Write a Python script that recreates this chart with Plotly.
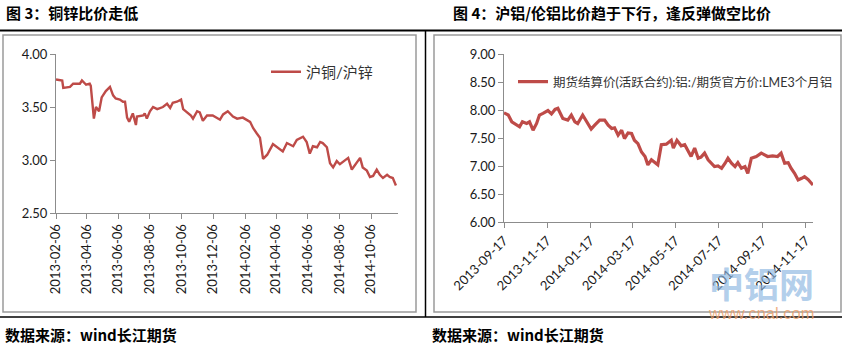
import plotly.graph_objects as go

W, H = 842, 345
RED = "#BE4B48"
AXIS = "#8C8C8C"
FONT = "Lato, 'Noto Sans CJK SC', sans-serif"
CJK_BOLD = "'Noto Sans CJK SC', sans-serif"

# ---- Chart 3: SHFE copper / SHFE zinc price ratio ----
cu_zn_dates = [
    "2013-02-06", "2013-02-18", "2013-02-20", "2013-03-05", "2013-03-11", "2013-03-24",
    "2013-03-28", "2013-04-05", "2013-04-12", "2013-04-14", "2013-04-20", "2013-04-24",
    "2013-04-30", "2013-05-05", "2013-05-13", "2013-05-21", "2013-05-27", "2013-06-01",
    "2013-06-09", "2013-06-15", "2013-06-19", "2013-06-23", "2013-06-27", "2013-07-04",
    "2013-07-10", "2013-07-12", "2013-07-24", "2013-07-27", "2013-07-31", "2013-08-06",
    "2013-08-12", "2013-08-20", "2013-08-31", "2013-09-08", "2013-09-14", "2013-09-19",
    "2013-09-27", "2013-10-05", "2013-10-09", "2013-10-16", "2013-10-24", "2013-10-28",
    "2013-11-05", "2013-11-10", "2013-11-16", "2013-11-24", "2013-12-05", "2013-12-19",
    "2013-12-25", "2014-01-03", "2014-01-13", "2014-01-21", "2014-02-01", "2014-02-15",
    "2014-02-21", "2014-02-28", "2014-03-06", "2014-03-12", "2014-03-20", "2014-03-31",
    "2014-04-14", "2014-04-19", "2014-04-27", "2014-05-09", "2014-05-16", "2014-05-28",
    "2014-06-04", "2014-06-10", "2014-06-16", "2014-06-24", "2014-06-30", "2014-07-05",
    "2014-07-13", "2014-07-19", "2014-07-25", "2014-08-01", "2014-08-07", "2014-08-13",
    "2014-08-23", "2014-08-30", "2014-09-09", "2014-09-15", "2014-09-20", "2014-09-28",
    "2014-10-04", "2014-10-10", "2014-10-17", "2014-10-23", "2014-10-29", "2014-11-06",
    "2014-11-11", "2014-11-17", "2014-11-23",
]
cu_zn_ratio = [
    3.76, 3.75, 3.68, 3.69, 3.72, 3.72,
    3.75, 3.71, 3.72, 3.70, 3.39, 3.50,
    3.46, 3.59, 3.65, 3.69, 3.61, 3.58,
    3.57, 3.55, 3.55, 3.40, 3.36, 3.44,
    3.33, 3.41, 3.42, 3.44, 3.39, 3.46,
    3.50, 3.48, 3.50, 3.53, 3.49, 3.54,
    3.55, 3.57, 3.48, 3.45, 3.42, 3.39,
    3.46, 3.45, 3.37, 3.42, 3.42, 3.38,
    3.43, 3.46, 3.41, 3.39, 3.40, 3.36,
    3.30, 3.25, 3.21, 3.01, 3.05, 3.15,
    3.10, 3.08, 3.16, 3.13, 3.19, 3.22,
    3.17, 3.06, 3.13, 3.12, 3.17, 3.16,
    3.12, 2.97, 2.93, 2.99, 2.96, 2.98,
    3.02, 2.91, 2.98, 3.02, 2.93, 2.90,
    2.84, 2.85, 2.91, 2.86, 2.83, 2.86,
    2.84, 2.83, 2.76,
]
cu_zn_ticks = [
    "2013-02-06", "2013-04-06", "2013-06-06", "2013-08-06", "2013-10-06", "2013-12-06",
    "2014-02-06", "2014-04-06", "2014-06-06", "2014-08-06", "2014-10-06",
]

# ---- Chart 4: SHFE aluminium settlement / LME 3-month aluminium ----
al_dates = [
    "2013-09-17", "2013-09-23", "2013-09-28", "2013-10-05", "2013-10-09", "2013-10-13",
    "2013-10-19", "2013-10-23", "2013-10-28", "2013-11-02", "2013-11-06", "2013-11-11",
    "2013-11-18", "2013-11-23", "2013-11-28", "2013-12-02", "2013-12-09", "2013-12-16",
    "2013-12-21", "2013-12-26", "2013-12-30", "2014-01-06", "2014-01-12", "2014-01-18",
    "2014-01-23", "2014-01-30", "2014-02-06", "2014-02-11", "2014-02-16", "2014-02-20",
    "2014-02-25", "2014-03-02", "2014-03-06", "2014-03-11", "2014-03-16", "2014-03-20",
    "2014-03-25", "2014-03-30", "2014-04-04", "2014-04-08", "2014-04-13", "2014-04-18",
    "2014-04-22", "2014-04-27", "2014-05-04", "2014-05-11", "2014-05-14", "2014-05-19",
    "2014-05-25", "2014-05-30", "2014-06-03", "2014-06-08", "2014-06-13", "2014-06-18",
    "2014-06-22", "2014-06-27", "2014-07-02", "2014-07-07", "2014-07-11", "2014-07-16",
    "2014-07-21", "2014-07-26", "2014-07-30", "2014-08-04", "2014-08-09", "2014-08-13",
    "2014-08-18", "2014-08-23", "2014-08-27", "2014-09-01", "2014-09-08", "2014-09-15",
    "2014-09-20", "2014-09-24", "2014-10-01", "2014-10-08", "2014-10-13", "2014-10-18",
    "2014-10-23", "2014-10-27", "2014-11-01", "2014-11-06", "2014-11-11", "2014-11-15",
    "2014-11-20", "2014-11-25", "2014-11-27",
]
al_ratio = [
    7.95, 7.91, 7.79, 7.73, 7.70, 7.79,
    7.76, 7.79, 7.64, 7.76, 7.91, 7.94,
    7.99, 7.93, 8.01, 8.03, 7.85, 7.82,
    7.91, 7.79, 7.76, 7.91, 7.79, 7.66,
    7.73, 7.82, 7.82, 7.73, 7.67, 7.68,
    7.55, 7.64, 7.49, 7.59, 7.58, 7.46,
    7.40, 7.25, 7.17, 7.02, 7.11, 7.05,
    7.02, 7.38, 7.39, 7.46, 7.32, 7.46,
    7.36, 7.38, 7.29, 7.17, 7.32, 7.14,
    7.16, 7.23, 7.11, 7.05, 6.99, 7.00,
    6.96, 7.05, 7.14, 7.05, 6.99, 7.06,
    6.96, 6.99, 6.87, 7.14, 7.17, 7.23,
    7.20, 7.17, 7.18, 7.17, 7.23, 7.05,
    7.06, 6.96, 6.87, 6.75, 6.78, 6.81,
    6.76, 6.70, 6.66,
]
al_ticks = [
    "2013-09-17", "2013-11-17", "2014-01-17", "2014-03-17",
    "2014-05-17", "2014-07-17", "2014-09-17", "2014-11-17",
]


def px(x):
    return x / W


def py(y):
    return 1 - y / H


fig = go.Figure()
fig.add_trace(go.Scatter(
    x=cu_zn_dates, y=cu_zn_ratio, mode="lines", name="沪铜/沪锌",
    line=dict(color=RED, width=2.4), xaxis="x", yaxis="y", legend="legend",
))
fig.add_trace(go.Scatter(
    x=al_dates, y=al_ratio, mode="lines",
    name="期货结算价(活跃合约):铝:/期货官方价:LME3个月铝",
    line=dict(color=RED, width=3.2), xaxis="x2", yaxis="y2", legend="legend2",
))

axis_common = dict(
    showline=True, linecolor=AXIS, linewidth=1, showgrid=False, zeroline=False,
    ticks="outside", ticklen=5, tickcolor=AXIS, tickwidth=1, automargin=False,
    tickfont=dict(family=FONT, size=13, color="#1a1a1a"),
)

fig.update_layout(
    width=W, height=H, margin=dict(l=0, r=0, t=0, b=0, autoexpand=False),
    paper_bgcolor="white", plot_bgcolor="white",
    xaxis=dict(domain=[px(56), px(398)], anchor="y", type="date",
               range=["2013-02-06", "2014-11-27"],
               tickmode="array", tickvals=cu_zn_ticks, ticktext=cu_zn_ticks,
               tickangle=-90, **axis_common),
    yaxis=dict(domain=[py(213), py(54)], anchor="x", range=[2.5, 4.0],
               dtick=0.5, tick0=2.5, tickformat=".2f", **axis_common),
    xaxis2=dict(domain=[px(504), px(813)], anchor="y2", type="date",
                range=["2013-09-17", "2014-11-27"],
                tickmode="array", tickvals=al_ticks, ticktext=al_ticks,
                tickangle=-45, **axis_common),
    yaxis2=dict(domain=[py(222), py(54)], anchor="x2", range=[6.0, 9.0],
                dtick=0.5, tick0=6.0, tickformat=".2f", **axis_common),
    legend=dict(x=px(266), y=py(72), xanchor="left", yanchor="middle",
                bgcolor="rgba(0,0,0,0)", borderwidth=0,
                font=dict(family=FONT, size=15, color="#333333")),
    legend2=dict(x=px(513), y=py(82), xanchor="left", yanchor="middle",
                 bgcolor="rgba(0,0,0,0)", borderwidth=0,
                 font=dict(family=FONT, size=12.5, color="#333333")),
    showlegend=True,
)

shapes = [
    # chart frames
    dict(type="rect", x0=px(3), x1=px(416), y0=py(35), y1=py(312),
         line=dict(color="#9A9A9A", width=1.5)),
    dict(type="rect", x0=px(434), x1=px(841), y0=py(35), y1=py(312),
         line=dict(color="#9A9A9A", width=1.5)),
    # page rules
    dict(type="line", x0=0, x1=1, y0=py(30.5), y1=py(30.5), line=dict(color="black", width=2)),
    dict(type="line", x0=0, x1=1, y0=py(317), y1=py(317), line=dict(color="black", width=1.5)),
    dict(type="line", x0=px(425.5), x1=px(425.5), y0=py(30.5), y1=py(317),
         line=dict(color="black", width=1.5)),
]
for s in shapes:
    s.update(xref="paper", yref="paper", layer="below")
fig.update_layout(shapes=shapes)

title_font = dict(family=CJK_BOLD, size=15, color="black")
watermark = (
    "<span style='font-size:35px;color:rgba(140,182,225,0.75)'><b>中铝网</b></span>"
    "<br><span style='color:rgba(236,158,105,0.9)'>www.cnal.com</span>"
)
annotations = [
    dict(text="<b>图 3：铜锌比价走低</b>", x=px(4), y=py(12), font=title_font),
    dict(text="<b>图 4：沪铝/伦铝比价趋于下行，逢反弹做空比价</b>", x=px(451), y=py(12),
         font=title_font),
    dict(text="<b>数据来源：wind长江期货</b>", x=px(3), y=py(334), font=title_font),
    dict(text="<b>数据来源：wind长江期货</b>", x=px(430), y=py(334), font=title_font),
    dict(text=watermark, x=px(706), y=py(324), yanchor="bottom", align="left",
         font=dict(family="Liberation Sans, 'Noto Sans CJK SC', sans-serif", size=16.5,
                   color="rgba(236,158,105,0.9)")),
]
for a in annotations:
    a.setdefault("yanchor", "middle")
    a.update(xref="paper", yref="paper", xanchor="left", showarrow=False)
fig.update_layout(annotations=annotations)

fig.write_html("out.html")
